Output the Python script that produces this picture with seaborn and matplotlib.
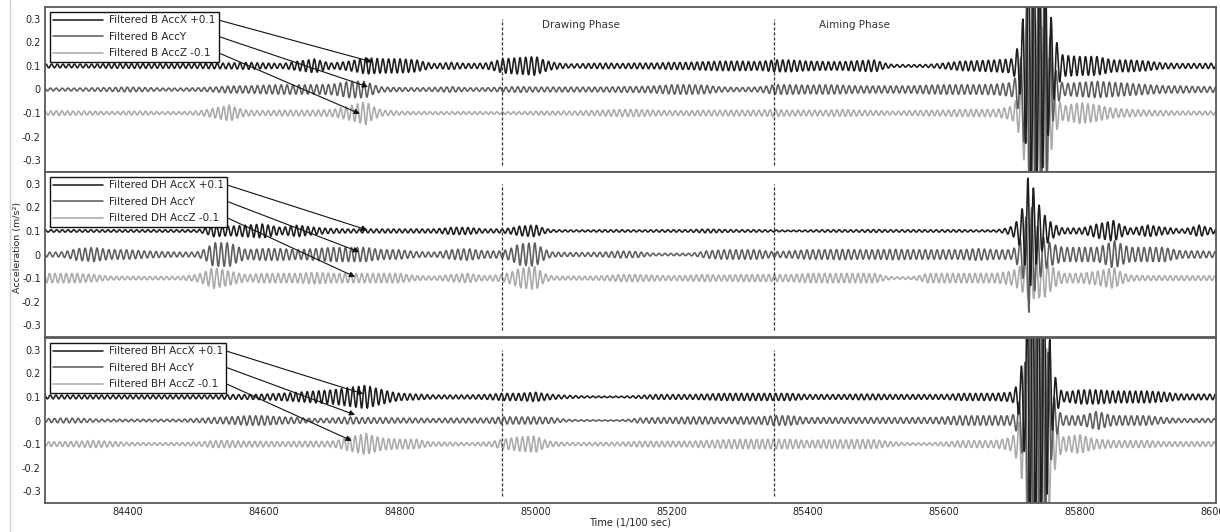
import numpy as np
import pandas as pd
import seaborn as sns
import matplotlib.pyplot as plt

# envelope knots (time, 1/100 sec) - amplitudes
knot_t = np.arange(84275, 86001, 25)

# panel B
b_x = [.008, .008, .008, .008, .01, .01, .01, .01, .01, .01,
       .012, .012, .015, .012, .01, .02, .03, .012, .02, .035,
       .03, .03, .025, .01, .015, .01, .012, .03, .035, .04,
       .015, .008, .01, .012, .01, .012, .012, .015, .015, .018,
       .02, .02, .018, .025, .025, .02, .018, .018, .022, .025,
       .006, .005, .006, .012, .02, .022, .025, .03, .6, .4,
       .045, .04, .04, .025, .025, .02, .012, .01, .01, .012]
b_y = [.006, .006, .006, .007, .008, .01, .008, .006, .006, .007,
       .01, .015, .015, .018, .02, .02, .02, .022, .035, .035,
       .01, .008, .007, .008, .012, .007, .007, .01, .012, .01,
       .01, .01, .01, .01, .012, .012, .015, .02, .02, .018,
       .01, .008, .01, .02, .02, .018, .02, .018, .015, .015,
       .015, .015, .018, .02, .02, .02, .022, .03, .55, .45,
       .025, .03, .035, .03, .025, .02, .015, .015, .012, .012]
b_z = [.008, .01, .008, .008, .006, .008, .008, .006, .006, .008,
       .02, .035, .012, .01, .012, .012, .012, .015, .03, .05,
       .012, .008, .006, .006, .006, .006, .006, .005, .006, .008,
       .008, .008, .01, .012, .015, .015, .012, .01, .01, .012,
       .012, .012, .012, .015, .012, .012, .012, .015, .012, .01,
       .008, .01, .012, .012, .015, .015, .015, .03, .45, .35,
       .03, .045, .035, .02, .015, .012, .01, .008, .008, .008]

# panel DH
dh_x = [.005, .005, .005, .005, .005, .005, .005, .005, .005, .005,
        .025, .02, .025, .03, .015, .025, .015, .01, .008, .008,
        .008, .008, .008, .008, .015, .015, .008, .008, .02, .025,
        .005, .004, .004, .005, .005, .004, .005, .005, .005, .008,
        .006, .005, .005, .004, .003, .004, .005, .005, .005, .006,
        .005, .005, .005, .005, .005, .004, .004, .02, .27, .06,
        .012, .012, .03, .045, .012, .025, .015, .008, .025, .01]
dh_y = [.01, .01, .025, .03, .02, .02, .015, .012, .01, .01,
        .05, .05, .02, .025, .025, .02, .025, .03, .03, .03,
        .02, .02, .012, .01, .02, .025, .015, .015, .045, .05,
        .01, .008, .008, .01, .015, .012, .005, .005, .005, .015,
        .02, .02, .02, .012, .015, .02, .02, .022, .02, .02,
        .022, .02, .02, .02, .02, .025, .02, .02, .25, .06,
        .03, .03, .03, .06, .03, .03, .03, .015, .015, .012]
dh_z = [.02, .02, .02, .015, .008, .007, .007, .007, .007, .015,
        .045, .03, .015, .02, .02, .02, .025, .02, .02, .02,
        .02, .02, .01, .008, .015, .02, .01, .015, .04, .05,
        .008, .008, .008, .01, .015, .015, .012, .01, .012, .015,
        .012, .015, .015, .015, .015, .02, .02, .02, .02, .02,
        .005, .005, .02, .02, .02, .02, .02, .03, .09, .08,
        .02, .02, .03, .045, .012, .01, .01, .01, .01, .01]

# panel BH
bh_x = [.008, .008, .008, .008, .008, .008, .008, .008, .008, .008,
        .008, .01, .01, .012, .015, .02, .025, .03, .04, .05,
        .03, .015, .012, .008, .008, .008, .01, .015, .015, .02,
        .01, .006, .004, .003, .003, .006, .01, .01, .01, .012,
        .015, .015, .015, .015, .015, .01, .01, .01, .012, .012,
        .01, .01, .01, .01, .015, .015, .015, .02, .6, .5,
        .02, .03, .03, .025, .025, .025, .02, .012, .012, .012]
bh_y = [.007, .01, .01, .006, .005, .005, .005, .005, .005, .008,
        .012, .015, .02, .02, .015, .012, .008, .01, .015, .012,
        .012, .01, .01, .008, .01, .01, .01, .015, .015, .015,
        .012, .004, .003, .002, .003, .01, .012, .012, .015, .015,
        .012, .015, .015, .02, .02, .012, .012, .012, .012, .012,
        .012, .012, .012, .015, .02, .02, .02, .02, .55, .45,
        .02, .02, .04, .02, .02, .02, .012, .008, .008, .008]
bh_z = [.01, .01, .012, .015, .012, .007, .006, .006, .006, .008,
        .015, .015, .012, .012, .01, .012, .012, .012, .03, .045,
        .025, .02, .02, .008, .008, .006, .008, .02, .03, .035,
        .01, .006, .007, .007, .008, .012, .012, .012, .012, .015,
        .018, .02, .02, .02, .02, .015, .018, .018, .02, .018,
        .01, .005, .005, .008, .015, .015, .015, .03, .5, .45,
        .03, .04, .02, .015, .015, .015, .01, .01, .01, .01]

panels = ['B', 'DH', 'BH']
envelopes = {'B': [b_x, b_y, b_z], 'DH': [dh_x, dh_y, dh_z], 'BH': [bh_x, bh_y, bh_z]}
offsets = [0.1, 0.0, -0.1]
suffix = [' AccX +0.1', ' AccY', ' AccZ -0.1']
periods = [8.4, 8.7, 8.2]          # oscillation period
phases = {'B': [0.0, 1.3, 2.6], 'DH': [0.7, 2.1, 4.0], 'BH': [1.5, 3.2, 5.1]}
colors = ['#1e1e1e', '#5e5e5e', '#aaaaaa']

phase_lines = [84950, 85350]
phase_names = ['Drawing Phase', 'Aiming Phase']
phase_text_x = [85009, 85416]

t = np.arange(84275, 86000.5, 0.5)


def make_frame(name):
    rows = []
    for k in range(3):
        env = np.exp(np.interp(t, knot_t, np.log(envelopes[name][k])))
        y = offsets[k] + env * np.sin(2 * np.pi * t / periods[k] + phases[name][k])
        rows.append(pd.DataFrame({'time': t, 'acc': y,
                                  'series': 'Filtered ' + name + suffix[k]}))
    return pd.concat(rows, ignore_index=True)


sns.set_style('white')
plt.rcParams['font.family'] = ['DejaVu Sans']
plt.rcParams['axes.unicode_minus'] = False

fig = plt.figure(figsize=(12.2, 5.32), dpi=100)
left, width = 45 / 1220, 1171 / 1220
h = 165 / 532
bottoms = [0.6767, 0.3665, 0.0545]

axes = []
for i, name in enumerate(panels):
    ax = fig.add_axes([left, bottoms[i], width, h])
    df = make_frame(name)
    sns.lineplot(data=df, x='time', y='acc', hue='series', palette=colors,
                 estimator=None, sort=False, linewidth=1.15, legend=False, ax=ax)
    for j, ln in enumerate(ax.lines[:3]):
        ln.set_zorder(2.3 - 0.1 * j)
    ax.vlines(phase_lines, -0.32, 0.3, colors='#333333',
              linestyles=(0, (2.5, 1.5)), linewidth=0.9, zorder=3)
    ax.set_xlim(84278, 86000)
    ax.set_ylim(-0.35, 0.35)
    ax.set_yticks([-0.3, -0.2, -0.1, 0, 0.1, 0.2, 0.3])
    ax.set_yticklabels(['-0.3', '-0.2', '-0.1', '0', '0.1', '0.2', '0.3'])
    ax.set_xticks(range(84400, 86001, 200))
    ax.tick_params(length=0, labelsize=7, pad=3, colors='#222222')
    if i < 2:
        ax.set_xticklabels([])
    ax.set_xlabel('')
    ax.set_ylabel('')
    for sp in ax.spines.values():
        sp.set_color('#5a5a5a')
        sp.set_linewidth(1.3)
    leg = ax.legend(handles=ax.lines[:3],
                    labels=['Filtered ' + name + s for s in suffix],
                    loc='upper left', borderaxespad=0.45, fontsize=7.5,
                    handlelength=4.8, handletextpad=0.5, labelspacing=0.62,
                    borderpad=0.35, fancybox=False, framealpha=1,
                    edgecolor='#111111')
    leg.get_frame().set_linewidth(1.0)
    leg.set_zorder(5)
    axes.append(ax)

axes[0].text(phase_text_x[0], 0.274, phase_names[0], fontsize=7.5,
             color='#333333', va='center')
axes[0].text(phase_text_x[1], 0.274, phase_names[1], fontsize=7.5,
             color='#333333', va='center')

# arrows from the legend box edge to the traces
tips = {'B': [(84759, 0.117), (84753, 0.011), (84741, -0.103)],
        'DH': [(84752, 0.104), (84740, 0.011), (84734, -0.095)],
        'BH': [(84746, 0.113), (84734, 0.024), (84729, -0.086)]}
fig.canvas.draw()
for ax, name in zip(axes, panels):
    leg = ax.get_legend()
    inv = ax.transData.inverted()
    box = leg.get_frame().get_window_extent()
    for k, txt in enumerate(leg.get_texts()):
        bb = txt.get_window_extent()
        start = inv.transform((box.x1 + 1, (bb.y0 + bb.y1) / 2))
        ax.annotate('', xy=tips[name][k], xytext=start, zorder=6,
                    arrowprops=dict(arrowstyle='-|>', color='#111111', lw=0.8,
                                    mutation_scale=8, shrinkA=0, shrinkB=0))

fig.text(0.0145, 0.534, 'Acceleration (m/s²)', rotation=90, va='center',
         ha='center', fontsize=6.8, color='#222222')
fig.text(0.5165, 0.017, 'Time (1/100 sec)', ha='center', va='center',
         fontsize=7, color='#222222')
fig.add_artist(plt.Line2D([0.008, 0.008], [0, 1], color='#d0d0d0', lw=1,
                          transform=fig.transFigure))

fig.savefig('out.png', dpi=100)
